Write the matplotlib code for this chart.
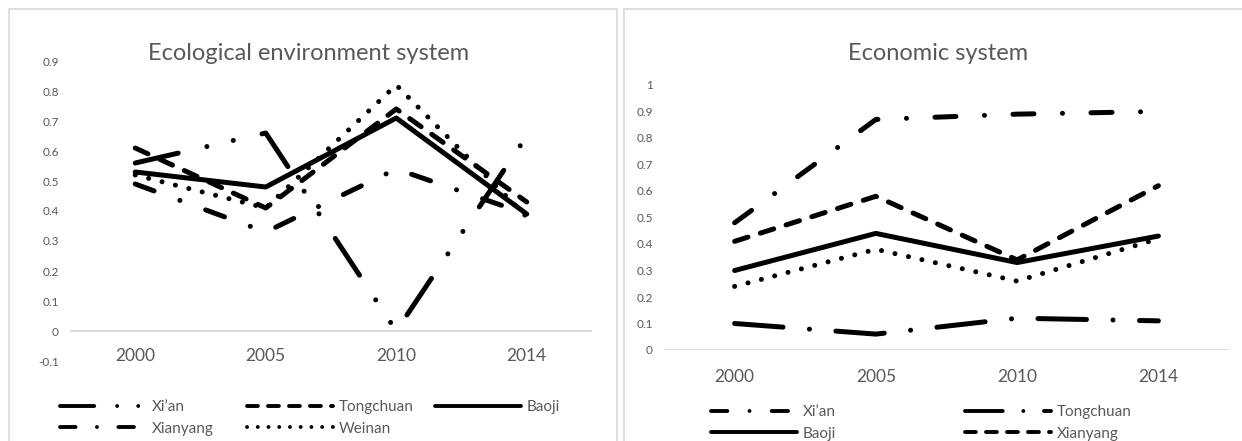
import matplotlib
matplotlib.use("Agg")
import matplotlib.pyplot as plt
from matplotlib.lines import Line2D
from matplotlib.patches import Rectangle

# ---------------- data ----------------
years = ["2000", "2005", "2010", "2014"]
cities = ["Xi\u2019an", "Tongchuan", "Baoji", "Xianyang", "Weinan"]

eco_xian = [0.56, 0.66, 0.00, 0.65]
eco_tongchuan = [0.61, 0.41, 0.74, 0.43]
eco_baoji = [0.53, 0.48, 0.71, 0.39]
eco_xianyang = [0.49, 0.33, 0.54, 0.39]
eco_weinan = [0.52, 0.41, 0.82, 0.38]

econ_xian = [0.48, 0.87, 0.89, 0.90]
econ_tongchuan = [0.10, 0.06, 0.12, 0.11]
econ_baoji = [0.30, 0.44, 0.33, 0.43]
econ_xianyang = [0.41, 0.58, 0.34, 0.62]
econ_weinan = [0.24, 0.38, 0.26, 0.42]

eco_yticks = [-0.1, 0, 0.1, 0.2, 0.3, 0.4, 0.5, 0.6, 0.7, 0.8, 0.9]
eco_ylabels = ["-0.1", "0", "0.1", "0.2", "0.3", "0.4", "0.5", "0.6", "0.7", "0.8", "0.9"]
econ_yticks = [0, 0.1, 0.2, 0.3, 0.4, 0.5, 0.6, 0.7, 0.8, 0.9, 1.0]
econ_ylabels = ["0", "0.1", "0.2", "0.3", "0.4", "0.5", "0.6", "0.7", "0.8", "0.9", "1"]

titles = ["Ecological environment system", "Economic system"]

# ---------------- styles ----------------
FONT = "Lato"
plt.rcParams["font.family"] = [FONT, "DejaVu Sans"]
GRAY = "#595959"
LIGHT = "#d9d9d9"
LW = 3.6
LEG_LW = 2.8
D = 0.01
eco_styles = {
    "Xi\u2019an": (0, (8.8, 5.9, D, 5.4, D, 5.9)),
    "Tongchuan": (0, (2.8, 2.6)),
    "Baoji": "-",
    "Xianyang": (0, (4.0, 5.5, D, 5.5)),
    "Weinan": (0, (D, 2.75)),
}
econ_styles = {
    "Xi\u2019an": (0, (4.2, 5.7, D, 5.7)),
    "Tongchuan": (0, (9.7, 5.3, D, 5.3)),
    "Baoji": "-",
    "Xianyang": (0, (2.8, 2.6)),
    "Weinan": (0, (D, 2.75)),
}

W, H = 1242, 441
fig = plt.figure(figsize=(W / 100, H / 100), dpi=100)


def fx(px):
    return px / W


def fy(py):
    return 1 - py / H


# panel borders
fig.add_artist(Rectangle((fx(9), fy(445)), fx(617) - fx(9), (445 - 9) / H,
                         transform=fig.transFigure, fill=False, edgecolor=LIGHT, lw=1.2))
fig.add_artist(Rectangle((fx(624), fy(445)), fx(1250) - fx(624), (445 - 9) / H,
                         transform=fig.transFigure, fill=False, edgecolor=LIGHT, lw=1.2))


def setup(ax, yticks, ylabels, ylim, xpad):
    x = list(range(len(years)))
    ax.set_xlim(-0.5, len(years) - 0.5)
    ax.set_ylim(*ylim)
    ax.set_xticks(x)
    ax.set_xticklabels(years, fontsize=12.5, color=GRAY)
    ax.set_yticks(yticks)
    ax.set_yticklabels(ylabels, fontsize=8.5, color=GRAY)
    ax.tick_params(axis="both", length=0)
    ax.tick_params(axis="x", pad=xpad)
    ax.tick_params(axis="y", pad=8)
    for s in ax.spines.values():
        s.set_visible(False)
    ax.axhline(0, color=LIGHT, lw=1.3, zorder=1)
    ax.patch.set_alpha(0)


def draw(ax, series, styles):
    x = list(range(len(years)))
    for name, vals in zip(cities, series):
        ax.plot(x, vals, color="black", lw=LW, linestyle=styles[name],
                dash_capstyle="round", solid_capstyle="round",
                solid_joinstyle="round", dash_joinstyle="round", clip_on=False, zorder=3)


def handle(style):
    return Line2D([], [], color="black", lw=LEG_LW, linestyle=style,
                  dash_capstyle="round", solid_capstyle="round")


# left chart
ax1 = fig.add_axes([fx(70), fy(361), (592 - 70) / W, (361 - 61) / H])
setup(ax1, eco_yticks, eco_ylabels, (-0.1, 0.9), -9.5)
draw(ax1, [eco_xian, eco_tongchuan, eco_baoji, eco_xianyang, eco_weinan], eco_styles)
fig.text(fx(309), fy(53), titles[0], ha="center", va="center", fontsize=17, color=GRAY)

# right chart
ax2 = fig.add_axes([fx(664), fy(350), (1229 - 664) / W, (350 - 85) / H])
setup(ax2, econ_yticks, econ_ylabels, (0, 1.0), 13.5)
draw(ax2, [econ_xian, econ_tongchuan, econ_baoji, econ_xianyang, econ_weinan], econ_styles)
fig.text(fx(938), fy(53), titles[1], ha="center", va="center", fontsize=17, color=GRAY)

LEG_FS = 11


def column_legend(names, styles, x0, ytop):
    lg = fig.legend([handle(styles[n]) for n in names], names, loc="upper left",
                    bbox_to_anchor=(fx(x0), fy(ytop)), bbox_transform=fig.transFigure,
                    frameon=False, borderpad=0, borderaxespad=0, handlelength=5.6,
                    handletextpad=0.4, labelspacing=0.5, fontsize=LEG_FS,
                    labelcolor=GRAY)
    return lg


column_legend(["Xi\u2019an", "Xianyang"], eco_styles, 60, 400)
column_legend(["Tongchuan", "Weinan"], eco_styles, 247, 400)
column_legend(["Baoji"], eco_styles, 435, 400)

column_legend(["Xi\u2019an", "Baoji"], econ_styles, 711, 405)
column_legend(["Tongchuan", "Xianyang"], econ_styles, 965, 405)

fig.savefig("out.png", dpi=100)
